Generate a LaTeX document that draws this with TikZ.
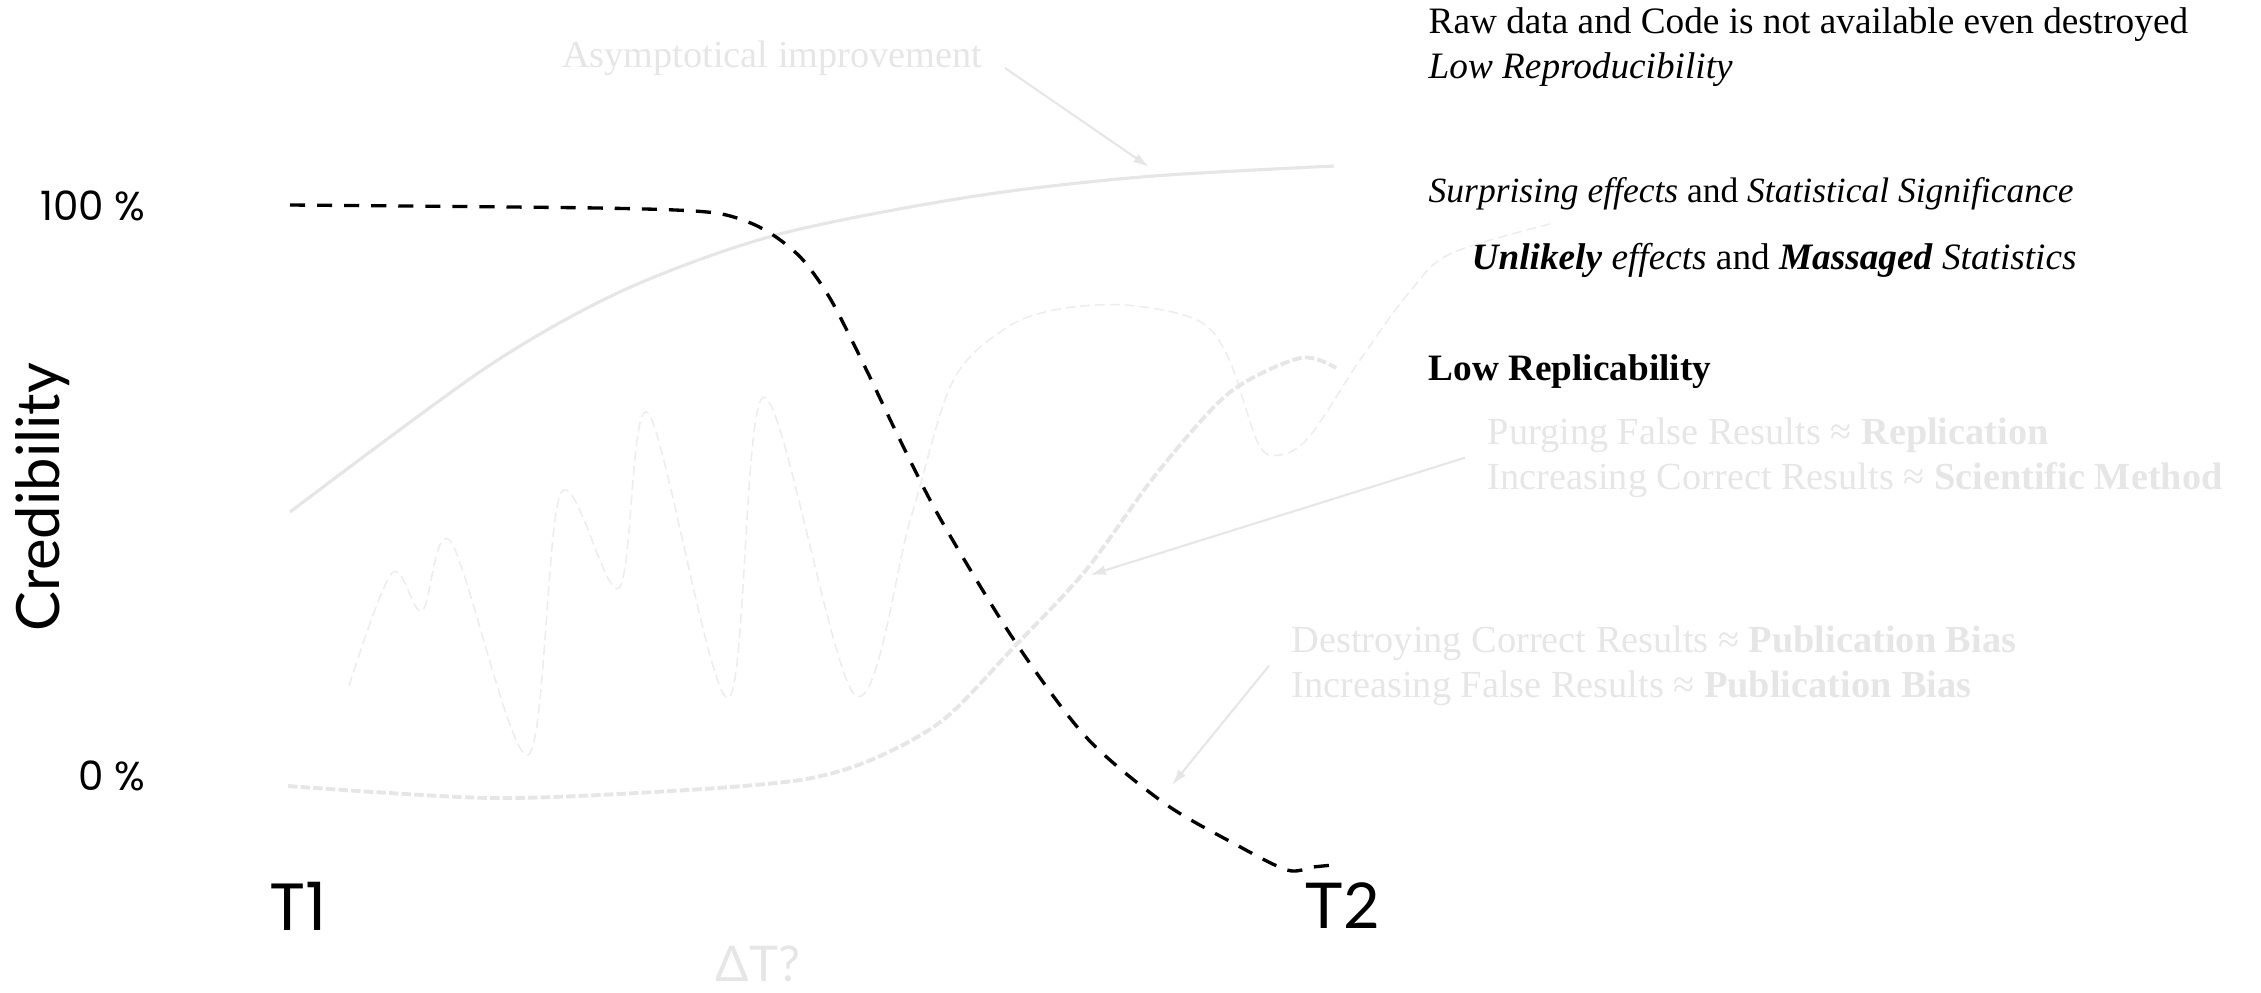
\documentclass[tikz,border=0pt]{standalone}
\usepackage{fontspec}
\setmainfont{Liberation Serif}
\newfontfamily\geofont{Poppins}
\newfontfamily\humfont{Lato}
\usetikzlibrary{arrows.meta}
\definecolor{faint}{HTML}{E6E6E6}
\definecolor{fainter}{HTML}{EDEDED}

\begin{document}
\begin{tikzpicture}[
        axsty/.style={font=\geofont\fontsize{11.5}{14}\selectfont,anchor=east,inner sep=0pt},
        tsty/.style={font=\geofont\fontsize{19}{22}\selectfont,inner sep=0pt},
        csty/.style={font=\humfont\fontsize{17}{20}\selectfont,inner sep=0pt},
        txt/.style={font=\fontsize{10.6}{12.8}\selectfont,align=left,inner sep=0pt},
        note/.style={txt,font=\fontsize{10.9}{12.8}\selectfont,text=faint,inner xsep=2.2mm},
        pointer/.style={-{Latex[length=4.5pt,width=2.8pt]},faint,line width=0.6pt},
        ]
    \useasboundingbox (0,0) rectangle (22.61,9.92);

    \node (top) at (1.46,7.86) [axsty] {100 \%};
    \node (bot) at (1.46,2.16) [axsty] {0 \%};
    \node (cred) at (0.43,4.95) [csty,rotate=90] {Credibility};
    \node (t1) at (2.98,0.86) [tsty] {T1};
    \node (t2) at (13.43,0.86) [csty,font=\humfont\fontsize{18}{21}\selectfont] {T2};
    \node (dt) at (7.58,0.28) [csty,font=\humfont\fontsize{14}{17}\selectfont,text=faint] {ΔT?};

    \node (raw) at (14.28,9.445) [txt,anchor=west] {Raw data and Code is not available even destroyed\\\textit{Low Reproducibility}};
    \node (surp) at (14.28,7.90) [txt,anchor=base west,font=\fontsize{10.1}{12.8}\selectfont] {\textit{Surprising effects} and \textit{Statistical Significance}};
    \node (unlik) at (14.71,7.23) [txt,anchor=base west] {\textbf{\textit{Unlikely}} \textit{effects} and \textbf{\textit{Massaged}} \textit{Statistics}};
    \node (lowrep) at (14.28,6.12) [txt,anchor=base west] {\textbf{Low Replicability}};

    \node (asym) at (10.05,9.24) [note,anchor=base east] {Asymptotical improvement};
    \node (purge) at (14.65,5.343) [note,anchor=west] {Purging False Results ≈ \textbf{Replication}\\Increasing Correct Results ≈ \textbf{Scientific Method}};
    \node (destroy) at (12.69,3.263) [note,anchor=west] {Destroying Correct Results ≈ \textbf{Publication Bias}\\Increasing False Results ≈ \textbf{Publication Bias}};

    \draw[fainter,line width=0.45pt,dash pattern=on 2.8pt off 1.4pt] plot[smooth,tension=0.55] coordinates {(3.49,3.06) (3.92,4.19) (4.22,3.81) (4.51,4.50) (5.28,2.37) (5.61,4.99) (6.19,4.04) (6.48,5.79) (7.28,2.94) (7.64,5.95) (8.55,2.97) (9.11,4.75) (9.52,6.09) (10.03,6.62) (10.54,6.82) (11.25,6.87) (11.97,6.72) (12.28,6.35) (12.58,5.49) (12.79,5.37) (13.09,5.55) (13.60,6.32) (14.11,7.02) (14.52,7.39) (15.54,7.69)};
    \draw[faint,line width=0.9pt] plot[smooth] coordinates {(2.90,4.80) (4.87,6.25) (6.24,7.02) (7.76,7.57) (9.69,7.95) (11.41,8.15) (13.34,8.26)};
    \draw[faint,line width=1.1pt,dash pattern=on 2.7pt off 0.9pt] plot[smooth] coordinates {(2.88,2.06) (4.91,1.94) (6.71,2.01) (8.00,2.12) (8.71,2.32) (9.43,2.72) (10.14,3.45) (10.86,4.22) (11.57,5.19) (12.29,5.99) (13.00,6.34) (13.36,6.24)};
    \draw[black,line width=0.95pt,dash pattern=on 4.3pt off 3.4pt] plot[smooth] coordinates {(2.90,7.87) (5.97,7.84) (7.07,7.80) (7.48,7.70) (7.76,7.55) (8.03,7.32) (8.31,6.92) (8.65,6.25) (9.00,5.52) (9.41,4.72) (10.14,3.52) (10.86,2.55) (11.64,1.89) (12.33,1.49) (12.87,1.22) (13.13,1.25) (13.33,1.27)};

    \coordinate (asymtip) at (11.49,8.25);
    \coordinate (purgetip) at (10.90,4.17);
    \coordinate (destroytip) at (11.72,2.07);
    \draw[pointer] (asym.base east) -- (asymtip);
    \draw[pointer] (purge.west) -- (purgetip);
    \draw[pointer] (destroy.west) -- (destroytip);

\end{tikzpicture}
\end{document}
